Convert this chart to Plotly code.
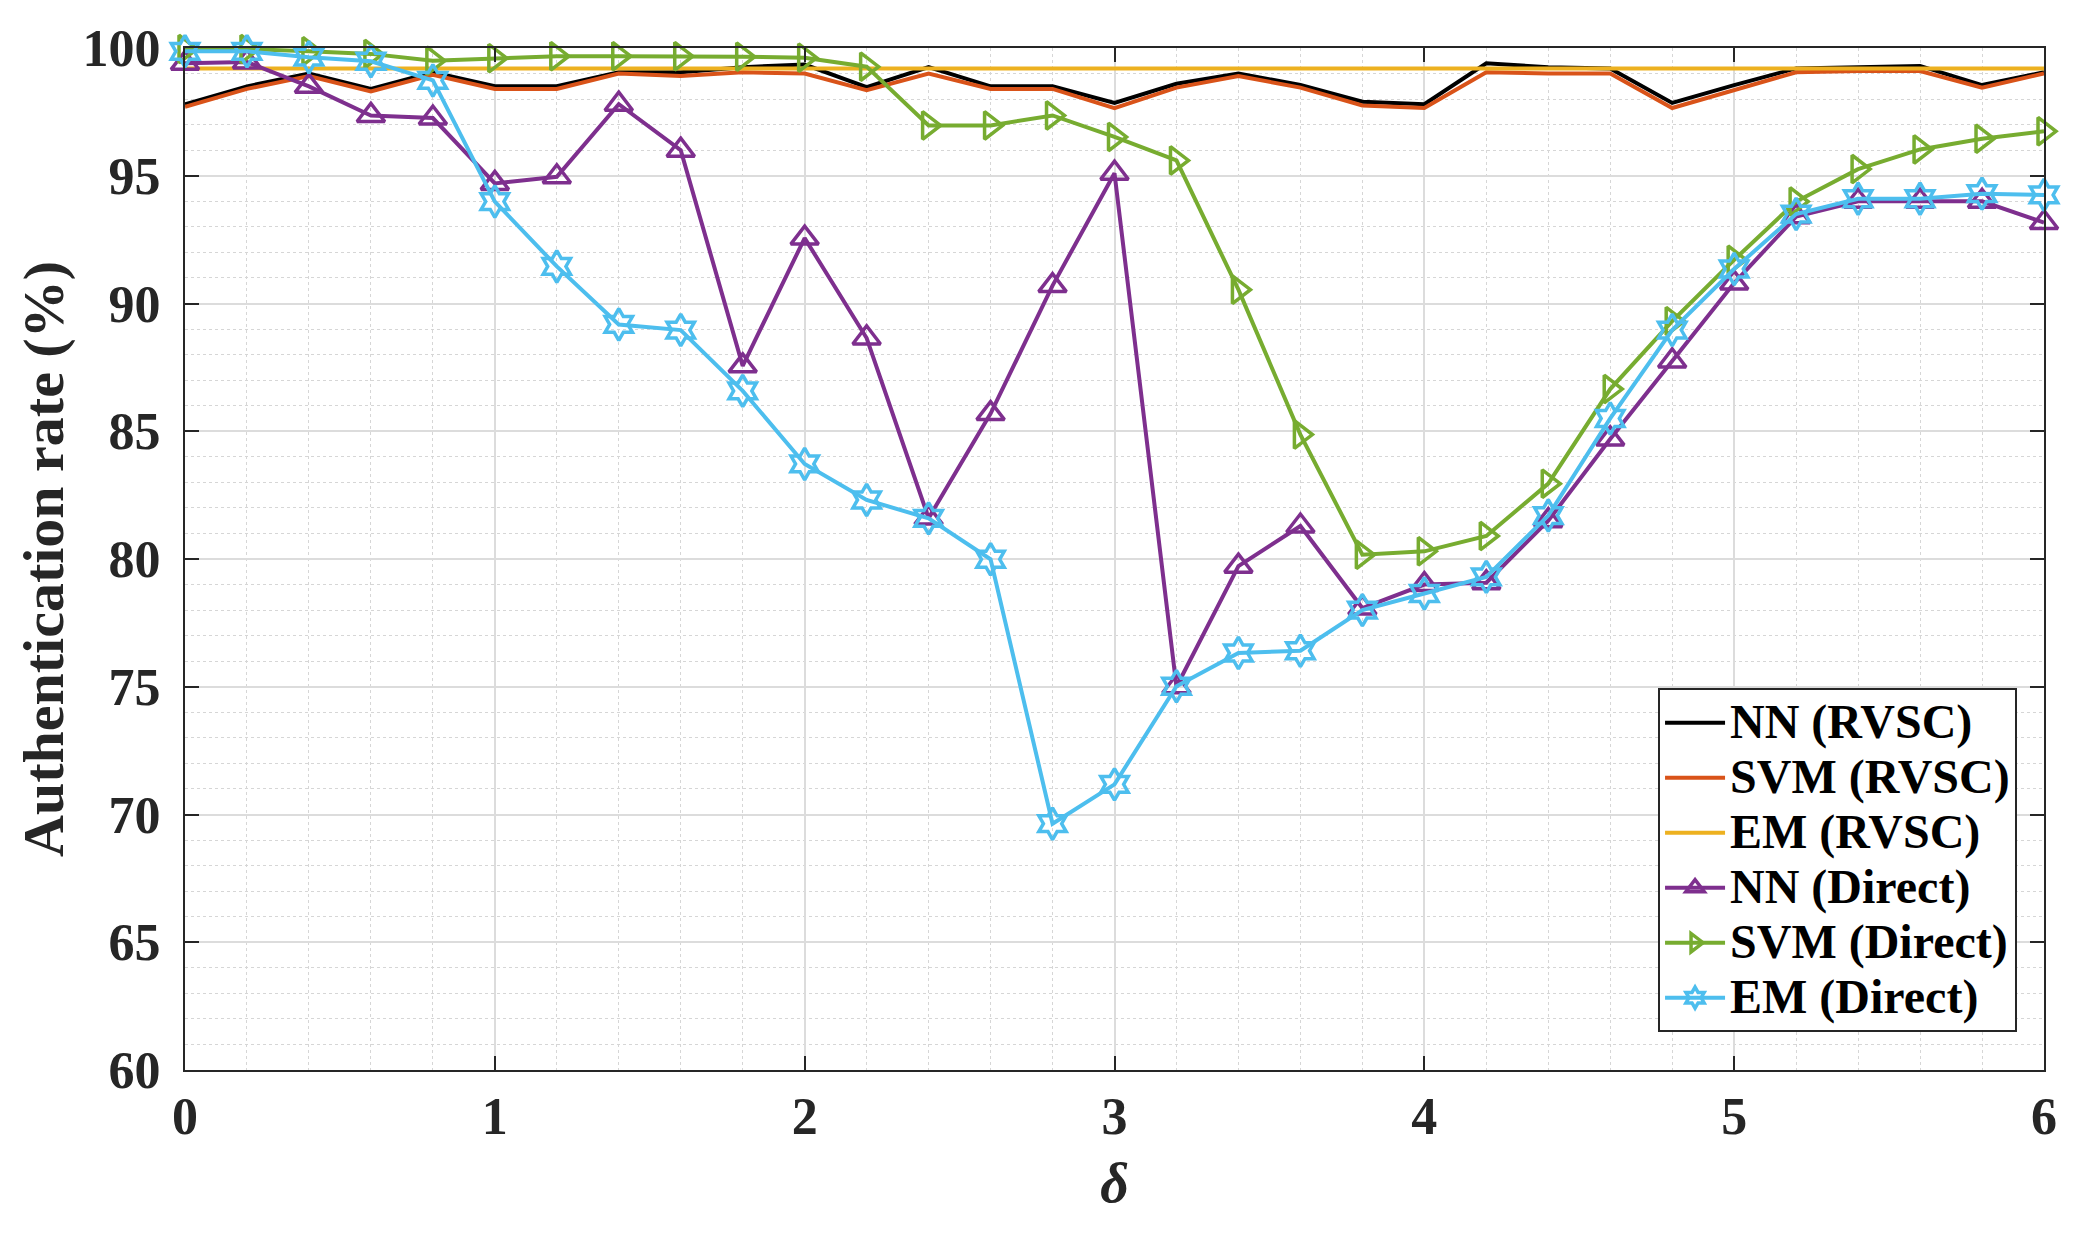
import plotly.graph_objects as go

delta = [round(i * 0.2, 1) for i in range(31)]

nn_rvsc = [97.8, 98.5, 99.0, 98.4, 99.05, 98.5, 98.5, 99.05, 99.05, 99.25, 99.35,
           98.47, 99.25, 98.5, 98.5, 97.85, 98.6, 99.0, 98.55, 97.9, 97.8,
           99.4, 99.25, 99.2, 97.85, 98.55, 99.2, 99.25, 99.3, 98.55, 99.05]
svm_rvsc = [97.7, 98.4, 98.9, 98.3, 98.95, 98.4, 98.4, 99.0, 98.9, 99.05, 99.0,
            98.35, 99.0, 98.4, 98.4, 97.65, 98.45, 98.9, 98.45, 97.75, 97.65,
            99.05, 99.0, 99.0, 97.65, 98.35, 99.05, 99.1, 99.1, 98.45, 99.0]
em_rvsc = [99.2] * 31
nn_direct = [99.4, 99.45, 98.5, 97.36, 97.26, 94.7, 94.96, 97.8, 96.0, 87.56, 92.56,
             88.65, 81.6, 85.69, 90.7, 95.1, 75.0, 79.72, 81.29, 78.08, 79.0,
             79.07, 81.5, 84.7, 87.75, 90.8, 93.4, 94.0, 94.0, 94.0, 93.17]
svm_direct = [99.96, 99.96, 99.87, 99.77, 99.5, 99.6, 99.68, 99.68, 99.68, 99.66, 99.62,
              99.27, 96.97, 96.97, 97.36, 96.52, 95.6, 90.54, 84.87, 80.17, 80.3,
              80.9, 82.95, 86.65, 89.31, 91.71, 93.99, 95.26, 96.03, 96.45, 96.74]
em_direct = [99.87, 99.87, 99.64, 99.48, 98.73, 93.99, 91.45, 89.18, 88.96, 86.58, 83.72,
             82.31, 81.59, 79.99, 69.64, 71.18, 75.02, 76.32, 76.41, 78.0, 78.65,
             79.3, 81.7, 85.5, 88.96, 91.35, 93.5, 94.1, 94.1, 94.3, 94.25]

FONT = "Liberation Serif, Times New Roman, serif"

fig = go.Figure()

def add(name, y, color, symbol=None):
    label = "<span style='font-size:48px'>" + name + "</span>"
    kw = dict(x=delta, y=y, name=label, line=dict(color=color, width=4), cliponaxis=False)
    if symbol:
        kw["mode"] = "lines+markers"
        kw["marker"] = dict(symbol=symbol, size=24, color=color, line=dict(color=color, width=3.5))
    else:
        kw["mode"] = "lines"
    fig.add_trace(go.Scatter(**kw))

add("NN (RVSC)", nn_rvsc, "#000000")
add("SVM (RVSC)", svm_rvsc, "#D95319")
add("EM (RVSC)", em_rvsc, "#EDB120")
add("NN (Direct)", nn_direct, "#7E2F8E", "triangle-up-open")
add("SVM (Direct)", svm_direct, "#77AC30", "triangle-right-open")
add("EM (Direct)", em_direct, "#4DBEEE", "hexagram-open")

axis_common = dict(
    showline=True, linecolor="#262626", linewidth=2, mirror="ticks",
    ticks="inside", ticklen=14, tickwidth=2, tickcolor="#262626",
    showgrid=True, gridcolor="#dcdcdc", gridwidth=1.5,
    tickfont=dict(family=FONT, size=52, color="#262626", weight="bold"),
    zeroline=False,
)

fig.update_xaxes(
    range=[0, 6], dtick=1, tick0=0,
    minor=dict(dtick=0.2, showgrid=True, griddash="dot", gridcolor="#d6d6d6", gridwidth=1.2, ticks=""),
    title=dict(text="<i>δ</i>", font=dict(family=FONT, size=56, color="#262626", weight="bold"), standoff=18),
    **axis_common,
)
fig.update_yaxes(
    range=[60, 100], dtick=5, tick0=60,
    minor=dict(dtick=1, showgrid=True, griddash="dot", gridcolor="#d6d6d6", gridwidth=1.2, ticks=""),
    title=dict(text="Authentication rate (%)", font=dict(family=FONT, size=58, color="#262626", weight="bold"), standoff=0),
    ticklabelstandoff=12,
    **axis_common,
)

fig.update_layout(
    width=2085, height=1239,
    margin=dict(l=177, r=49, t=36, b=177),
    plot_bgcolor="white", paper_bgcolor="white",
    font=dict(family=FONT, size=48, color="#000000"),
    legend=dict(
        x=0.9855, y=0.037, xanchor="right", yanchor="bottom",
        bgcolor="white", bordercolor="#262626", borderwidth=2,
        font=dict(family=FONT, size=40, color="#000000", weight="bold"),
        tracegroupgap=0, itemwidth=60,
    ),
    showlegend=True,
)

fig.write_html("out.html")
